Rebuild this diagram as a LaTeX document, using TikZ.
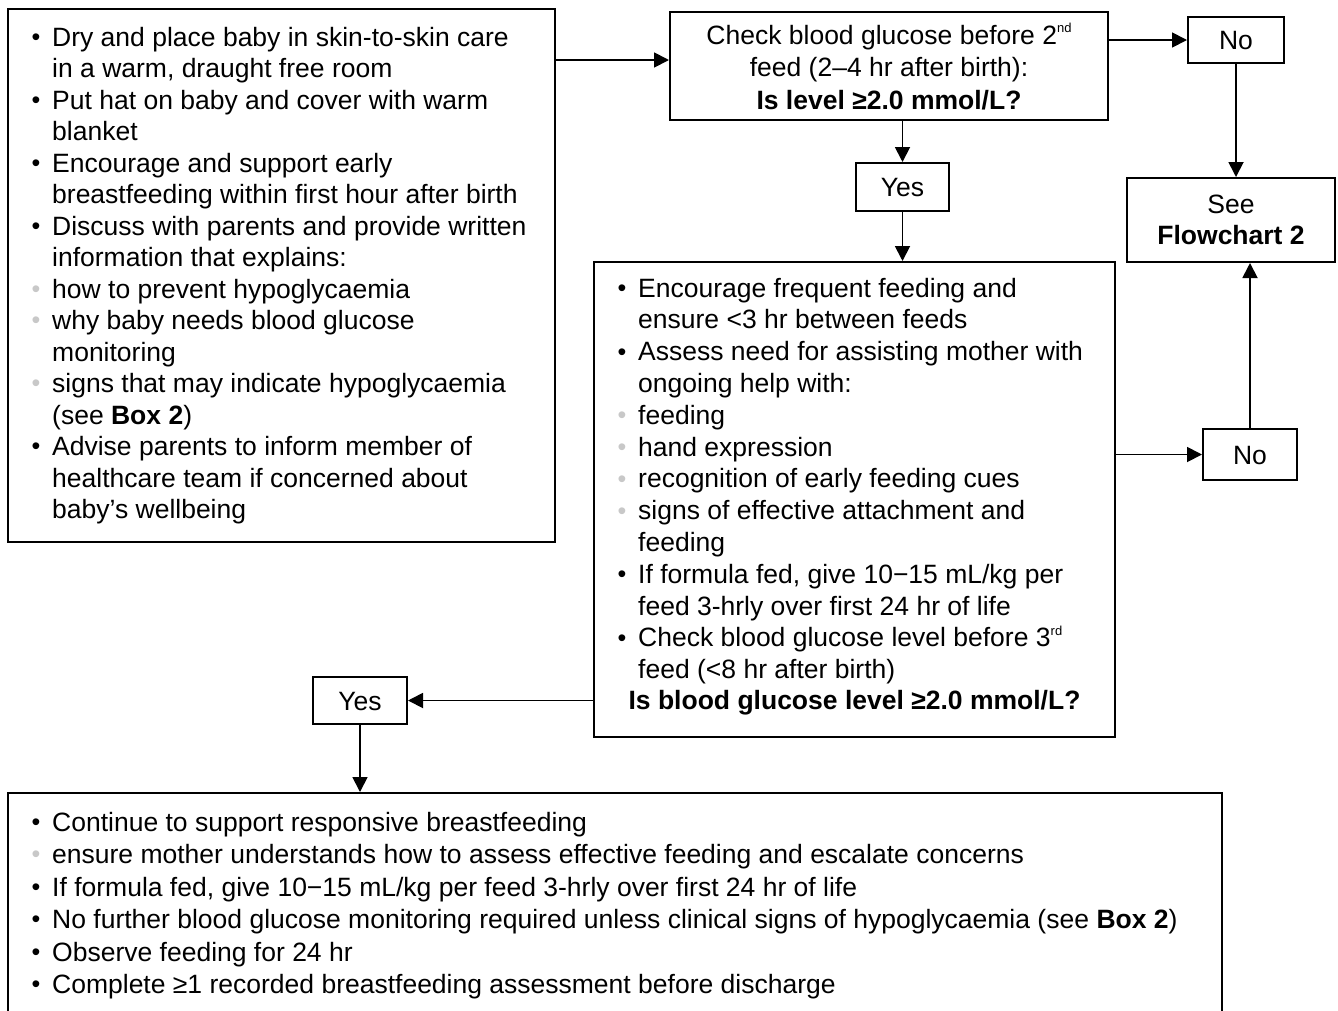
\documentclass[tikz,border=0pt]{standalone}
\usepackage{fontspec}
\setmainfont{Liberation Sans}
\usetikzlibrary{arrows.meta}
\definecolor{bulgrey}{RGB}{200,200,200}
\newcommand\Bk{\makebox[20.5pt][l]{\raisebox{0.6pt}{\fontsize{25}{25}\selectfont\textbullet}}}
\newcommand\Bg{\makebox[20.5pt][l]{\raisebox{0.6pt}{\fontsize{25}{25}\selectfont\textcolor{bulgrey}{\textbullet}}}}
\newcommand\In{\hspace*{20.5pt}}
\newcommand\sups[1]{\raisebox{0.42em}{\fontsize{13}{13}\selectfont #1}}
\begin{document}
\begin{tikzpicture}[x=1pt,y=-1pt,
  box/.style={draw, line width=2pt, rectangle, inner sep=0pt},
  lbl/.style={box, font=\fontsize{26.5}{31.5}\selectfont, text height=19pt, text depth=0pt},
  txt/.style={inner sep=0pt, anchor=base west},
  arr/.style={line width=1.8pt, -{Triangle[length=15pt,width=15pt]}}]
\path[use as bounding box, clip] (0,0) rectangle (1338,1010);
\fill[white] (0,0) rectangle (1338,1010);

% boxes
\node[box, minimum width=547pt, minimum height=533pt] (b1) at (281.5,275.5) {};
\node[box, minimum width=438pt, minimum height=108pt] (chk) at (889,66) {};
\node[lbl, minimum width=96pt, minimum height=46pt] (no1) at (1236,40) {No};
\node[box, minimum width=208pt, minimum height=84pt, align=center,
      font=\fontsize{26.5}{31}\selectfont] (see) at (1231,220) {See\\\textbf{Flowchart 2}};
\node[lbl, minimum width=93pt, minimum height=48pt] (yes1) at (902.5,187) {Yes};
\node[box, minimum width=521pt, minimum height=475pt] (mid) at (854.5,499.5) {};
\node[lbl, minimum width=94pt, minimum height=51pt] (no2) at (1250,454.5) {No};
\node[lbl, minimum width=94pt, minimum height=47pt] (yes2) at (360,700.5) {Yes};
\node[box, minimum width=1214pt, minimum height=237pt] (bot) at (615,911.5) {};

% texts
\node[txt] (t1) at (31.5,46) {\parbox[t]{540pt}{\fontsize{26.5}{31.5}\selectfont\raggedright
\Bk Dry and place baby in skin-to-skin care\\
\In in a warm, draught free room\\
\Bk Put hat on baby and cover with warm\\
\In blanket\\
\Bk Encourage and support early\\
\In breastfeeding within first hour after birth\\
\Bk Discuss with parents and provide written\\
\In information that explains:\\
\Bg how to prevent hypoglycaemia\\
\Bg why baby needs blood glucose\\
\In monitoring\\
\Bg signs that may indicate hypoglycaemia\\
\In (see \textbf{Box 2})\\
\Bk Advise parents to inform member of\\
\In healthcare team if concerned about\\
\In baby’s wellbeing}};

\node[anchor=base, inner sep=0pt] (t2) at (889,44) {\parbox[t]{430pt}{\centering\fontsize{26.5}{32.5}\selectfont
Check blood glucose before 2\sups{nd}\\
feed (2–4 hr after birth):\\
\textbf{Is level ≥2.0 mmol/L?}}};

\node[txt] (t3) at (617.5,297) {\parbox[t]{490pt}{\fontsize{26.5}{31.8}\selectfont\raggedright
\Bk Encourage frequent feeding and\\
\In ensure <3 hr between feeds\\
\Bk Assess need for assisting mother with\\
\In ongoing help with:\\
\Bg feeding\\
\Bg hand expression\\
\Bg recognition of early feeding cues\\
\Bg signs of effective attachment and\\
\In feeding\\
\Bk If formula fed, give 10−15 mL/kg per\\
\In feed 3-hrly over first 24 hr of life\\
\Bk Check blood glucose level before 3\sups{rd}\\
\In feed (<8 hr after birth)}};
\node[anchor=base, inner sep=0pt] (t3b) at (854.5,709) {\fontsize{26.5}{31.8}\selectfont\bfseries Is blood glucose level ≥2.0 mmol/L?};

\node[txt] (t4) at (31.5,831) {\parbox[t]{1250pt}{\fontsize{26.5}{32.5}\selectfont\raggedright
\Bk Continue to support responsive breastfeeding\\
\Bg ensure mother understands how to assess effective feeding and escalate concerns\\
\Bk If formula fed, give 10−15 mL/kg per feed 3-hrly over first 24 hr of life\\
\Bk No further blood glucose monitoring required unless clinical signs of hypoglycaemia (see \textbf{Box 2})\\
\Bk Observe feeding for 24 hr\\
\Bk Complete ≥1 recorded breastfeeding assessment before discharge}};

% connectors
\coordinate (y60) at (0,60);
\draw[arr] (b1.east |- y60) -- (chk.west |- y60);
\draw[arr] (chk.east |- no1.west) -- (no1.west);
\draw[arr] (no1.south) -- (no1.south |- see.north);
\draw[arr] (yes1.north |- chk.south) -- (yes1.north);
\draw[arr] (yes1.south) -- (yes1.south |- mid.north);
\draw[arr] (mid.east |- no2.west) -- (no2.west);
\draw[arr] (no2.north) -- (no2.north |- see.south);
\draw[arr] (mid.west |- yes2.east) -- (yes2.east);
\draw[arr] (yes2.south) -- (yes2.south |- bot.north);
\end{tikzpicture}
\end{document}
